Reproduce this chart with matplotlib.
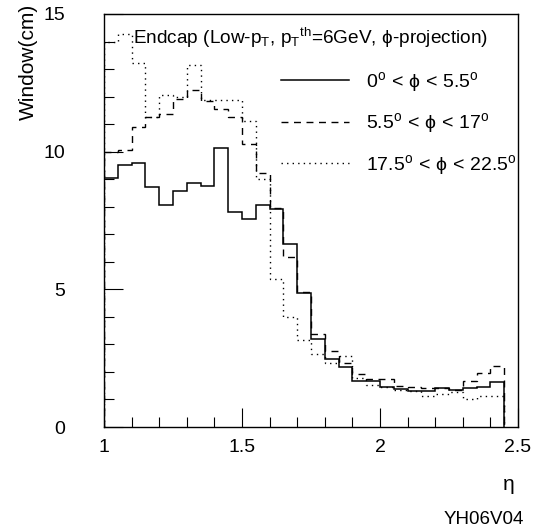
import numpy as np
import matplotlib
matplotlib.use('Agg')
import matplotlib.pyplot as plt

plt.rcParams['font.family'] = ['Liberation Sans', 'DejaVu Sans']
plt.rcParams['mathtext.fontset'] = 'custom'
plt.rcParams['mathtext.rm'] = 'Liberation Sans'
plt.rcParams['mathtext.it'] = 'Liberation Sans'
plt.rcParams['mathtext.fallback'] = 'stixsans'

# bin edges in eta (0.05 wide, 1.00 .. 2.45)
edges = np.round(np.arange(1.0, 2.4501, 0.05), 2)

# window widths (cm)
w_0_55 = [9.03, 9.50, 9.60, 8.71, 8.07, 8.57, 8.87, 8.77, 10.14, 7.81,
          7.55, 8.05, 7.92, 6.66, 4.87, 3.18, 2.46, 2.17, 1.68, 1.68,
          1.45, 1.38, 1.32, 1.32, 1.40, 1.33, 1.40, 1.44, 1.65]
w_55_17 = [10.00, 10.05, 10.89, 11.26, 11.38, 11.92, 12.23, 11.85, 11.56, 11.26,
           10.27, 9.24, 7.94, 6.18, 4.90, 3.37, 2.77, 2.31, 1.93, 1.76,
           1.76, 1.50, 1.47, 1.40, 1.40, 1.34, 1.67, 1.95, 2.23]
w_175_225 = [13.97, 14.27, 13.21, 11.27, 12.06, 12.00, 13.15, 11.88, 11.88, 11.88,
             11.11, 9.00, 5.36, 3.98, 3.16, 2.64, 2.34, 2.58, 1.77, 1.53,
             1.47, 1.36, 1.30, 1.13, 1.21, 1.28, 1.02, 1.14, 1.14]

labels = [r'$0^{o}\,<\,\phi\,<\,5.5^{o}$',
          r'$5.5^{o}\,<\,\phi\,<\,17^{o}$',
          r'$17.5^{o}\,<\,\phi\,<\,22.5^{o}$']

fig = plt.figure(figsize=(5.34, 5.32), dpi=100)
ax = fig.add_axes([104/534, 105/532, 414/534, 413/532])

ax.stairs(w_175_225, edges, baseline=0, color='black', lw=1.0, ls=(0, (1, 3)), label=labels[2])
ax.stairs(w_55_17, edges, baseline=0, color='black', lw=1.0, ls=(0, (5, 4)), label=labels[1])
ax.stairs(w_0_55, edges, baseline=0, color='black', lw=1.1, ls='-', label=labels[0])

ax.set_xlim(1, 2.5)
ax.set_ylim(0, 15)
ax.set_xticks([1, 1.5, 2, 2.5])
ax.set_xticklabels(['1', '1.5', '2', '2.5'])
ax.set_xticks(np.arange(1, 2.5, 0.1), minor=True)
ax.set_yticks([0, 5, 10, 15])
ax.set_yticks(np.arange(0, 15, 1), minor=True)
ax.tick_params(which='major', direction='in', length=14, width=0.8, labelsize=14, top=False, right=False)
ax.tick_params(which='minor', direction='in', length=7, width=0.8, top=False, right=False)
ax.tick_params(axis='x', pad=9)
ax.tick_params(axis='y', pad=28)
for s in ax.spines.values():
    s.set_linewidth(1.0)

ax.text(29/414, 0.942, r'Endcap (Low-$\mathrm{p_T}$, $\mathrm{p_T{}^{th}}$=6GeV, $\phi$-projection)',
        transform=ax.transAxes, fontsize=13.7, va='center', ha='left')

h, l = ax.get_legend_handles_labels()
ax.legend(h[::-1], l[::-1], loc='center left', bbox_to_anchor=(177/414, 0.735), frameon=False,
          fontsize=14, handlelength=3.5, labelspacing=0.9, handletextpad=0.85,
          borderpad=0, borderaxespad=0)

fig.text(28/534, 1 - 4/532, 'Window(cm)', rotation=90, ha='center', va='top', fontsize=15)
fig.text(509/534, 1 - 484/532, r'η', ha='center', va='center', fontsize=15)
fig.text(484/534, 1 - 519/532, 'YH06V04', ha='center', va='center', fontsize=13.5)

fig.savefig('out.png', dpi=100)
